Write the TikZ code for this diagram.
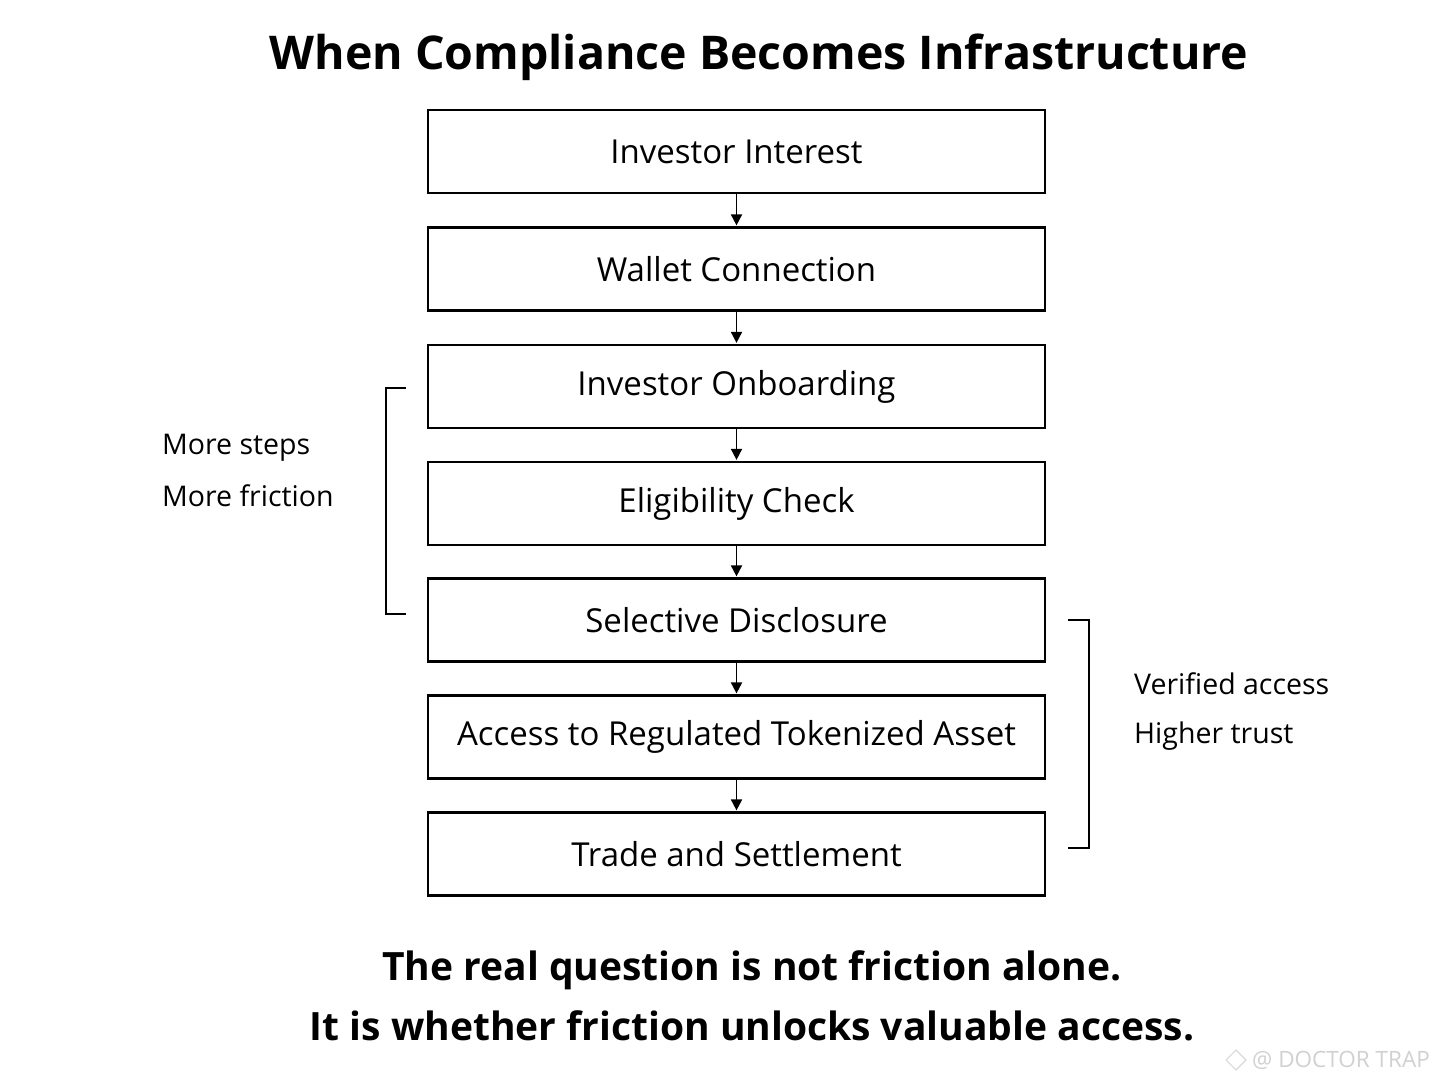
\documentclass[tikz,border=0pt]{standalone}
\usepackage{fontspec}
\setmainfont{Open Sans}
\usetikzlibrary{arrows.meta}
\begin{document}
\begin{tikzpicture}[x=1pt,y=-1pt,
  stepbox/.style={draw=black,line width=2.2pt,minimum width=617pt,minimum height=83pt,inner sep=0pt,font=\fontsize{33}{38}\selectfont},
  flow/.style={draw=black,line width=1.8pt,-{Triangle[length=11pt,width=11pt]},shorten >=1pt},
  brk/.style={draw=black,line width=2pt},
  side/.style={anchor=west,inner sep=0pt,font=\fontsize{28.5}{32}\selectfont}]
\useasboundingbox (0,0) rectangle (1448,1086);
\fill[white] (0,0) rectangle (1448,1086);
\node[font=\bfseries\fontsize{46.5}{52}\selectfont] (title) at (759,57) {When Compliance Becomes Infrastructure};
\node[stepbox] (b1) at (736.5,151.5) {Investor Interest};
\node[stepbox] (b2) at (736.5,269) {Wallet Connection};
\node[stepbox] (b3) at (736.5,386.5) {Investor Onboarding};
\node[stepbox] (b4) at (736.5,503.5) {Eligibility Check};
\node[stepbox] (b5) at (736.5,620) {Selective Disclosure};
\node[stepbox] (b6) at (736.5,737) {Access to Regulated Tokenized Asset};
\node[stepbox] (b7) at (736.5,854) {Trade and Settlement};
\foreach \a/\b in {b1/b2,b2/b3,b3/b4,b4/b5,b5/b6,b6/b7}
  \draw[flow] (\a.south) -- (\b.north);
\coordinate (l1) at (406,388);
\coordinate (l2) at (386,388);
\coordinate (l3) at (386,614);
\coordinate (l4) at (406,614);
\draw[brk] (l1) -- (l2) -- (l3) -- (l4);
\coordinate (r1) at (1068,620);
\coordinate (r2) at (1089,620);
\coordinate (r3) at (1089,848);
\coordinate (r4) at (1068,848);
\draw[brk] (r1) -- (r2) -- (r3) -- (r4);
\node[side] (s1) at (162,448) {More steps};
\node[side] (s2) at (162,496) {More friction};
\node[side] (s3) at (1134,684) {Verified access};
\node[side] (s4) at (1134,736) {Higher trust};
\node[font=\bfseries\fontsize{39}{44}\selectfont] (q1) at (752,970) {The real question is not friction alone.};
\node[font=\bfseries\fontsize{39}{44}\selectfont] (q2) at (752,1026) {It is whether friction unlocks valuable access.};
\node[rotate=45,draw=black!15,line width=1.2pt,minimum size=14pt,inner sep=0pt] (logo) at (1236,1060) {};
\node[anchor=west,text=black!18,inner sep=0pt,font=\fontsize{22.5}{26}\selectfont] (wm) at (1252,1060) {@ DOCTOR TRAP};
\end{tikzpicture}
\end{document}
